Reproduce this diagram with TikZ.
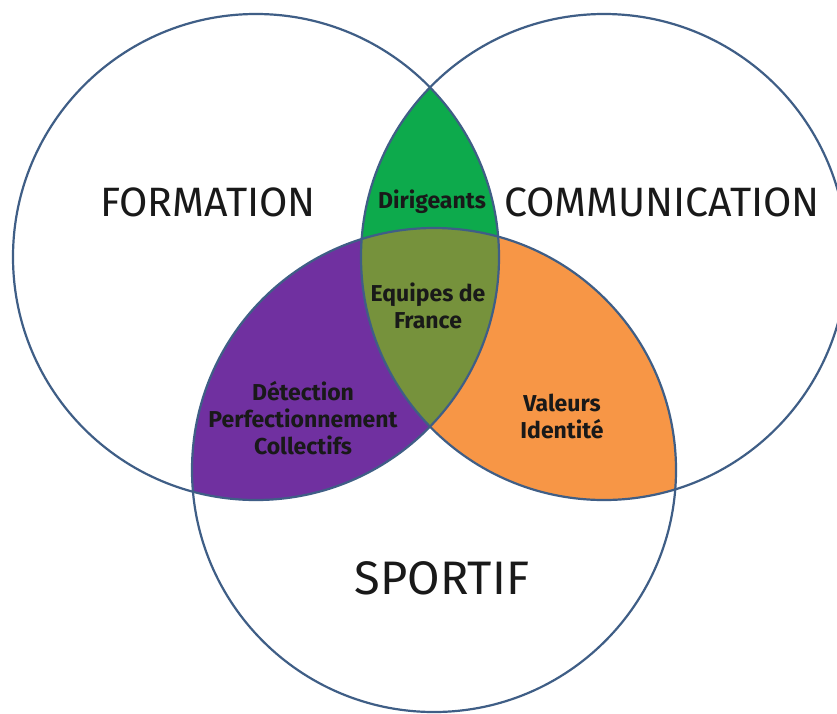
\documentclass[tikz,border=0pt]{standalone}
\usepackage{fontspec}
\setmainfont{Fira Sans}
\definecolor{ring}{HTML}{3F5E86}
\definecolor{cgreen}{HTML}{0DAA4C}
\definecolor{cpurple}{HTML}{7030A0}
\definecolor{corange}{HTML}{F79646}
\definecolor{colive}{HTML}{76923C}
\begin{document}
\begin{tikzpicture}[x=1pt,y=-1pt,
  ringline/.style={draw=ring,line width=2.2pt},
  biglabel/.style={font=\fontsize{41}{46}\selectfont,inner sep=0pt,text=black!90},
  smalllabel/.style={font=\fontsize{23}{27}\selectfont\bfseries,inner sep=0pt,align=center,text=black!90}]
\useasboundingbox (0,0) rectangle (837,713);
\fill[white] (0,0) rectangle (837,713);
\def\Lc{(256,257) circle[radius=243]}
\def\Rc{(604,257) circle[radius=243]}
\def\Bc{(434,470) circle[radius=242]}
% green: L and R
\begin{scope}
  \clip \Lc;
  \fill[cgreen] \Rc;
\end{scope}
% purple: L and B
\begin{scope}
  \clip \Lc;
  \fill[cpurple] \Bc;
\end{scope}
% orange: R and B
\begin{scope}
  \clip \Rc;
  \fill[corange] \Bc;
\end{scope}
% olive: all three
\begin{scope}
  \clip \Lc;
  \clip \Rc;
  \fill[colive] \Bc;
\end{scope}
\draw[ringline] \Lc;
\draw[ringline] \Rc;
\draw[ringline] \Bc;
\node[biglabel] (formation) at (208,202) {FORMATION};
\node[biglabel] (communication) at (662,202) {COMMUNICATION};
\node[biglabel,font=\fontsize{47}{52}\selectfont] (sportif) at (442,578) {SPORTIF};
\node[smalllabel] (dirigeants) at (432,202) {Dirigeants};
\node[smalllabel] (equipes) at (428,306) {Equipes de\\France};
\node[smalllabel] (detection) at (303,418) {Détection\\Perfectionnement\\Collectifs};
\node[smalllabel] (valeurs) at (562,416) {Valeurs\\Identité};
\end{tikzpicture}
\end{document}
